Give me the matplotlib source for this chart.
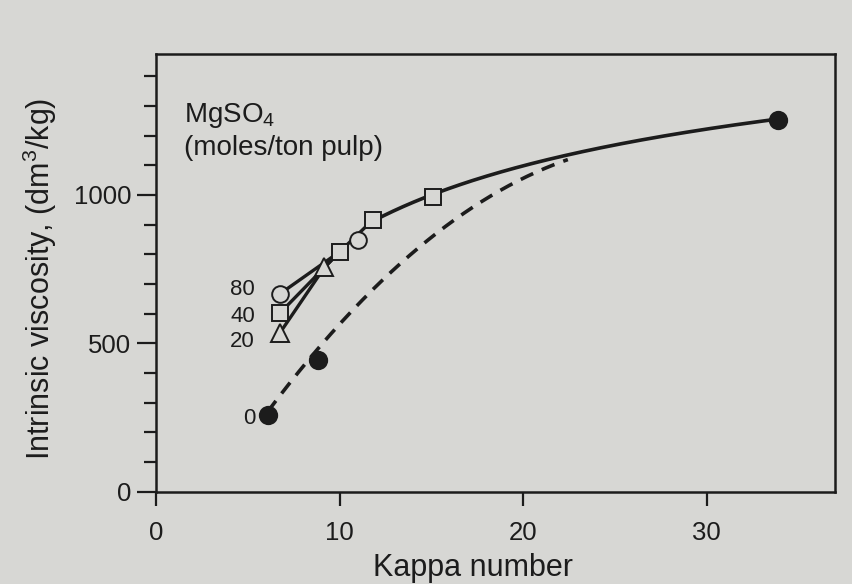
import matplotlib
matplotlib.use('Agg')
import matplotlib.pyplot as plt
import numpy as np
from matplotlib.ticker import MultipleLocator, FixedLocator

plt.rcParams['font.family'] = ['Liberation Sans', 'DejaVu Sans']
plt.rcParams['mathtext.fontset'] = 'custom'
plt.rcParams['mathtext.rm'] = 'Liberation Sans'
plt.rcParams['mathtext.it'] = 'Liberation Sans'

# MgSO4 charge (moles/ton pulp) series
kappa_80 = [6.74, 11.0]
visc_80 = [666, 848]
kappa_40 = [6.74, 10.02, 11.82, 15.07]
visc_40 = [601, 809, 916, 994]
kappa_20 = [6.74, 9.18]
visc_20 = [534, 756]
kappa_0 = [6.08, 8.84, 33.9]
visc_0 = [258, 444, 1253]

# hand-drawn trend lines
curve_kappa = [11.82, 13.33, 15.07, 18.8, 22.43, 26.07, 29.73, 31.55, 33.9]
curve_visc = [916, 956, 994, 1079, 1137, 1183, 1221, 1236, 1253]
dash_kappa = [6.08, 8.5, 10.6, 13.4, 16.5, 20.26, 22.44]
dash_visc = [258, 466, 623, 761, 920, 1062, 1124]

bg = '#d7d7d4'
ink = '#1c1c1c'

fig = plt.figure(figsize=(8.52, 5.84), dpi=100, facecolor=bg)
ax = fig.add_axes([0.1831, 0.1582, 0.797, 0.7493], facecolor=bg)

# solid trend curve (fit in log kappa)
p = np.polyfit(np.log(curve_kappa), curve_visc, 2)
xs = np.linspace(curve_kappa[0], curve_kappa[-1], 200)
ax.plot(xs, np.polyval(p, np.log(xs)), color=ink, lw=2.6, zorder=2,
        solid_capstyle='round')

# dashed curve for no MgSO4
p0 = np.polyfit(dash_kappa, dash_visc, 2)
xd = np.linspace(dash_kappa[0], dash_kappa[-1], 200)
ax.plot(xd, np.polyval(p0, xd), color=ink, lw=2.6, dashes=(3.8, 2.6), zorder=2)

# short segments converging on the main curve
ax.plot([kappa_80[0], kappa_40[1]], [visc_80[0], visc_40[1]], color=ink, lw=2.4, zorder=2)
ax.plot(kappa_40[:3], visc_40[:3], color=ink, lw=2.4, zorder=2)
ax.plot(kappa_20 + [kappa_40[1]], visc_20 + [visc_40[1]], color=ink, lw=2.4, zorder=2)

mk = dict(ls='none', markeredgewidth=1.4, markeredgecolor=ink, zorder=3)
ax.plot(kappa_80, visc_80, marker='o', markersize=12, markerfacecolor=bg, **mk)
ax.plot(kappa_40, visc_40, marker='s', markersize=12, markerfacecolor=bg, **mk)
ax.plot(kappa_20, visc_20, marker='^', markersize=13, markerfacecolor=bg, **mk)
ax.plot(kappa_0, visc_0, marker='o', markersize=12.5, markerfacecolor=ink, **mk)

# series labels
ax.text(5.4, 680, '80', ha='right', va='center', fontsize=16, color=ink)
ax.text(5.4, 589, '40', ha='right', va='center', fontsize=16, color=ink)
ax.text(5.4, 505, '20', ha='right', va='center', fontsize=16, color=ink)
ax.text(5.4, 248, '0', ha='right', va='center', fontsize=16, color=ink)

ax.text(1.5, 1246, 'MgSO$_4$', fontsize=20, color=ink, va='baseline')
ax.text(1.5, 1135, '(moles/ton pulp)', fontsize=20, color=ink, va='baseline')

ax.set_xlim(0, 37.0)
ax.set_ylim(0, 1475)
ax.xaxis.set_major_locator(FixedLocator([0, 10, 20, 30]))
ax.yaxis.set_major_locator(FixedLocator([0, 500, 1000]))
ax.yaxis.set_minor_locator(MultipleLocator(100))
ax.tick_params(axis='both', which='major', direction='out', width=1.6,
               labelsize=18.5, colors=ink)
ax.tick_params(axis='x', which='major', length=10, pad=11)
ax.tick_params(axis='y', which='major', length=14, pad=4)
ax.tick_params(axis='y', which='minor', direction='out', length=9, width=1.6, colors=ink)
for s in ax.spines.values():
    s.set_linewidth(1.8)
    s.set_color(ink)

ax.set_xlabel('Kappa number', fontsize=22, color=ink)
ax.set_ylabel('Intrinsic viscosity, (dm$^3$/kg)', fontsize=22, color=ink)
ax.xaxis.set_label_coords(0.467, -0.14)
ax.yaxis.set_label_coords(-0.143, 0.486)

fig.savefig('out.png', dpi=100, facecolor=bg)
